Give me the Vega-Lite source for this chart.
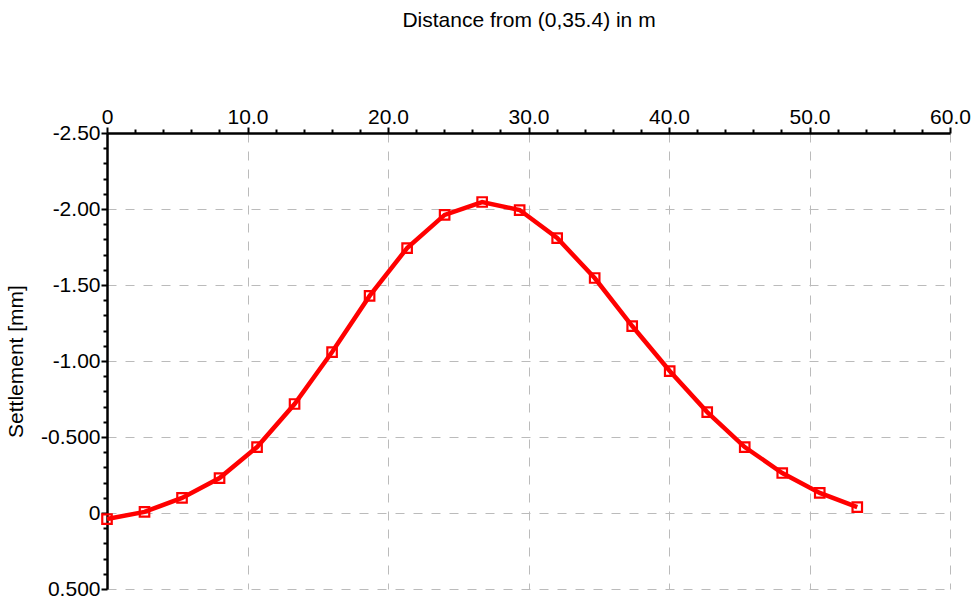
{
  "$schema": "https://vega.github.io/schema/vega-lite/v6.json",
  "width": 843,
  "height": 456,
  "autosize": {"type": "none"},
  "padding": {"left": 107, "top": 133, "right": 22, "bottom": 15},
  "background": "white",
  "config": {
    "view": {"stroke": null},
    "font": "Liberation Sans",
    "axis": {"labelFont": "Liberation Sans", "titleFont": "Liberation Sans", "labelColor": "#000", "titleColor": "#000", "titleFontWeight": "normal"}
  },
  "data": {
    "values": [
      {"d": 0.0, "s": 0.04},
      {"d": 2.67, "s": -0.007},
      {"d": 5.34, "s": -0.099},
      {"d": 8.01, "s": -0.23},
      {"d": 10.68, "s": -0.434},
      {"d": 13.35, "s": -0.717},
      {"d": 16.02, "s": -1.059},
      {"d": 18.69, "s": -1.428},
      {"d": 21.36, "s": -1.743},
      {"d": 24.03, "s": -1.961},
      {"d": 26.7, "s": -2.046},
      {"d": 29.37, "s": -1.993},
      {"d": 32.04, "s": -1.809},
      {"d": 34.71, "s": -1.546},
      {"d": 37.38, "s": -1.23},
      {"d": 40.05, "s": -0.934},
      {"d": 42.72, "s": -0.664},
      {"d": 45.39, "s": -0.434},
      {"d": 48.06, "s": -0.263},
      {"d": 50.73, "s": -0.132},
      {"d": 53.4, "s": -0.039}
    ]
  },
  "resolve": {"axis": {"x": "independent", "y": "independent"}},
  "layer": [
    {
      "mark": {"type": "line", "color": "#ff0000", "strokeWidth": 4.5},
      "encoding": {
        "x": {
          "field": "d", "type": "quantitative",
          "scale": {"domain": [0, 60], "nice": false, "zero": false},
          "axis": {
            "orient": "top",
            "values": [0, 10, 20, 30, 40, 50, 60],
            "title": "Distance from (0,35.4) in m",
            "titleFontSize": 21,
            "titlePadding": 76,
            "labelFontSize": 21,
            "labelPadding": 0,
            "labelFlush": false,
            "labelExpr": "datum.value == 0 ? '0' : format(datum.value, '.1f')",
            "domainColor": "#000",
            "domainWidth": 2.5,
            "tickColor": "#000",
            "tickWidth": 2,
            "tickSize": 6,
            "grid": true,
            "gridColor": "#bbbbbb",
            "gridWidth": 1,
            "gridDash": [9, 9]
          }
        },
        "y": {
          "field": "s", "type": "quantitative",
          "scale": {"domain": [-2.5, 0.5], "nice": false, "zero": false, "reverse": true},
          "axis": {
            "orient": "left",
            "values": [-2.5, -2.0, -1.5, -1.0, -0.5, 0, 0.5],
            "title": "Settlement [mm]",
            "titleFontSize": 21,
            "titlePadding": 14,
            "labelFontSize": 21,
            "labelPadding": 1,
            "labelFlush": false,
            "labelExpr": "datum.value == 0 ? '0' : replace(format(datum.value, '.3r'), '\u2212', '-')",
            "domainColor": "#000",
            "domainWidth": 2.5,
            "tickColor": "#000",
            "tickWidth": 2,
            "tickSize": 6,
            "grid": true,
            "gridColor": "#bbbbbb",
            "gridWidth": 1,
            "gridDash": [9, 9]
          }
        }
      }
    },
    {
      "mark": {"type": "point", "shape": "square", "filled": false, "color": "#ff0000", "size": 90, "strokeWidth": 2.2, "opacity": 1},
      "encoding": {
        "x": {
          "field": "d", "type": "quantitative",
          "axis": {
            "orient": "top",
            "values": [2, 4, 6, 8, 12, 14, 16, 18, 22, 24, 26, 28, 32, 34, 36, 38, 42, 44, 46, 48, 52, 54, 56, 58],
            "labels": false, "title": null, "domain": false, "grid": false,
            "tickColor": "#000", "tickWidth": 2, "tickSize": 4
          }
        },
        "y": {
          "field": "s", "type": "quantitative",
          "axis": {
            "orient": "left",
            "values": [-2.4, -2.3, -2.2, -2.1, -1.9, -1.8, -1.7, -1.6, -1.4, -1.3, -1.2, -1.1, -0.9, -0.8, -0.7, -0.6, -0.4, -0.3, -0.2, -0.1, 0.1, 0.2, 0.3, 0.4],
            "labels": false, "title": null, "domain": false, "grid": false,
            "tickColor": "#000", "tickWidth": 2, "tickSize": 4
          }
        }
      }
    }
  ]
}
